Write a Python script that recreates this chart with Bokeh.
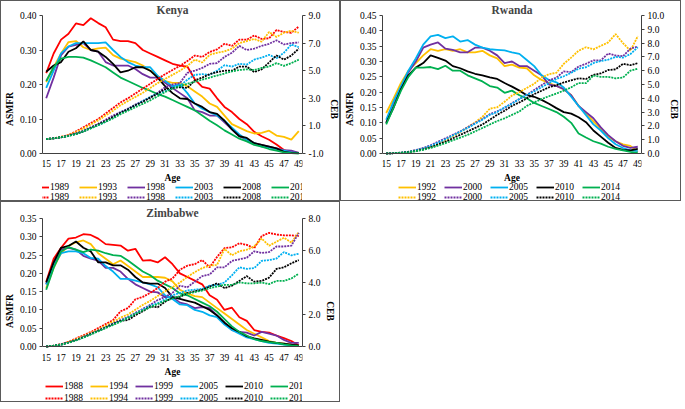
from bokeh.plotting import figure
from bokeh.models import (Range1d, LinearAxis, FixedTicker, NumeralTickFormatter,
                          Legend, LegendItem)
from bokeh.layouts import gridplot
from bokeh.embed import file_html
from bokeh.resources import INLINE

ages = [15, 16, 17, 18, 19, 20, 21, 22, 23, 24, 25, 26, 27, 28, 29, 30, 31, 32,
        33, 34, 35, 36, 37, 38, 39, 40, 41, 42, 43, 44, 45, 46, 47, 48, 49]
age_ticks = [15, 17, 19, 21, 23, 25, 27, 29, 31, 33, 35, 37, 39, 41, 43, 45, 47, 49]

# ---------------- Kenya ----------------
kenya_years = ["1989", "1993", "1998", "2003", "2008", "2014"]
kenya_asmfr_1989 = [.233, .29, .33, .347, .377, .372, .392, .378, .366, .33, .326, .326, .32, .30, .29, .28, .27, .26, .255, .252, .215, .193, .188, .16, .135, .12, .10, .085, .063, .05, .04, .026, .01, .004, .002]
kenya_asmfr_1993 = [.207, .25, .29, .323, .326, .308, .30, .305, .307, .285, .275, .27, .265, .255, .24, .225, .21, .205, .205, .195, .18, .165, .145, .135, .11, .085, .075, .065, .058, .06, .066, .052, .048, .04, .065]
kenya_asmfr_1998 = [.16, .22, .285, .31, .315, .32, .30, .295, .265, .255, .255, .255, .245, .23, .22, .22, .205, .19, .175, .16, .125, .12, .11, .11, .09, .07, .05, .04, .03, .025, .02, .015, .01, .008, .002]
kenya_asmfr_2003 = [.19, .24, .29, .31, .32, .32, .32, .32, .322, .30, .28, .265, .255, .25, .25, .225, .21, .195, .20, .175, .145, .13, .12, .11, .095, .075, .055, .04, .03, .02, .018, .012, .008, .003, .001]
kenya_asmfr_2008 = [.237, .255, .265, .295, .305, .325, .30, .295, .28, .26, .235, .24, .25, .25, .24, .22, .195, .175, .16, .158, .145, .135, .12, .115, .095, .07, .05, .045, .03, .025, .02, .015, .005, .002, .001]
kenya_asmfr_2014 = [.21, .25, .275, .28, .28, .278, .27, .26, .25, .235, .22, .21, .20, .19, .182, .172, .165, .155, .145, .135, .125, .11, .095, .082, .067, .055, .043, .035, .025, .02, .013, .008, .003, .001, .0]
kenya_ceb_1989 = [.05, .1, .2, .35, .6, .9, 1.2, 1.5, 1.9, 2.3, 2.7, 3.0, 3.35, 3.7, 4.05, 4.4, 4.75, 5.05, 5.35, 5.7, 6.1, 6.0, 6.35, 6.55, 6.95, 6.8, 7.25, 7.25, 7.55, 7.3, 7.35, 7.95, 7.8, 7.75, 8.2]
kenya_ceb_1993 = [.05, .1, .2, .33, .55, .8, 1.1, 1.4, 1.75, 2.1, 2.5, 2.8, 3.1, 3.4, 3.75, 4.1, 4.4, 4.7, 5.0, 5.35, 5.8, 5.6, 6.15, 6.3, 6.4, 6.6, 7.0, 7.15, 7.3, 7.1, 7.8, 7.45, 7.75, 7.9, 7.75]
kenya_ceb_1998 = [.05, .1, .18, .3, .45, .65, .9, 1.15, 1.45, 1.75, 2.0, 2.25, 2.55, 2.8, 3.05, 3.4, 3.8, 4.0, 4.1, 4.85, 5.0, 5.2, 5.5, 5.55, 6.0, 6.3, 6.8, 6.5, 6.6, 6.8, 6.95, 7.2, 6.9, 7.0, 7.05]
kenya_ceb_2003 = [.05, .1, .17, .28, .42, .6, .85, 1.05, 1.3, 1.6, 1.95, 2.2, 2.5, 2.8, 3.1, 3.35, 3.5, 3.8, 3.9, 4.35, 4.7, 4.75, 4.7, 5.0, 5.4, 5.3, 5.5, 5.45, 5.8, 5.95, 6.15, 5.9, 6.3, 6.9, 6.7]
kenya_ceb_2008 = [.05, .1, .17, .28, .42, .6, .85, 1.1, 1.35, 1.65, 1.95, 2.2, 2.5, 2.75, 3.05, 3.35, 3.65, 3.75, 3.8, 3.75, 4.3, 4.5, 4.75, 4.9, 5.0, 5.0, 5.3, 5.3, 4.9, 5.1, 5.6, 6.1, 5.8, 6.1, 6.6]
kenya_ceb_2014 = [.05, .1, .17, .27, .4, .6, .82, 1.05, 1.3, 1.55, 1.85, 2.1, 2.35, 2.6, 2.85, 3.15, 3.45, 3.7, 3.9, 4.05, 4.2, 4.35, 4.5, 4.65, 4.8, 4.95, 5.05, 5.1, 5.05, 5.2, 5.3, 5.55, 5.35, 5.55, 5.8]

# ---------------- Rwanda ----------------
rwanda_years = ["1992", "2000", "2005", "2010", "2014"]
rwanda_asmfr_1992 = [.132, .18, .23, .27, .295, .32, .34, .335, .34, .335, .34, .33, .33, .335, .32, .31, .285, .29, .28, .278, .255, .24, .23, .22, .21, .19, .155, .13, .105, .08, .055, .04, .03, .025, .005]
rwanda_asmfr_2000 = [.10, .16, .215, .265, .30, .345, .355, .362, .342, .338, .33, .33, .345, .345, .335, .32, .295, .30, .285, .285, .27, .255, .225, .22, .21, .19, .155, .135, .115, .085, .06, .04, .025, .018, .022]
rwanda_asmfr_2005 = [.11, .17, .22, .27, .31, .355, .382, .387, .376, .382, .365, .37, .355, .345, .34, .338, .336, .33, .325, .305, .285, .255, .24, .232, .215, .185, .155, .125, .095, .075, .05, .03, .018, .01, .008]
rwanda_asmfr_2010 = [.10, .15, .21, .255, .28, .295, .32, .312, .303, .285, .278, .268, .26, .255, .248, .243, .23, .218, .205, .19, .185, .175, .162, .148, .135, .13, .118, .102, .075, .055, .035, .018, .012, .01, .015]
rwanda_asmfr_2014 = [.095, .15, .205, .25, .28, .28, .282, .275, .286, .27, .27, .255, .245, .235, .22, .215, .198, .205, .19, .18, .165, .155, .145, .135, .12, .10, .065, .052, .04, .032, .022, .015, .01, .005, .001]
rwanda_ceb_1992 = [0.0, .02, .06, .12, .22, .35, .5, .7, .95, 1.25, 1.55, 1.9, 2.25, 2.65, 3.25, 3.35, 3.75, 4.2, 4.45, 4.75, 5.05, 5.5, 5.75, 5.85, 6.5, 6.95, 7.45, 7.7, 7.55, 7.8, 8.05, 8.65, 8.0, 7.45, 8.5]
rwanda_ceb_2000 = [0.0, .02, .06, .13, .25, .4, .6, .85, 1.1, 1.35, 1.6, 1.9, 2.2, 2.5, 2.85, 3.05, 3.3, 3.65, 3.95, 4.25, 4.6, 4.95, 5.3, 5.5, 5.95, 5.9, 6.3, 6.5, 6.75, 6.75, 7.25, 7.1, 7.05, 7.6, 7.75]
rwanda_ceb_2005 = [0.0, .02, .06, .12, .22, .37, .55, .78, 1.02, 1.3, 1.58, 1.85, 2.15, 2.45, 2.8, 3.0, 3.35, 3.6, 3.95, 4.25, 4.5, 4.8, 5.1, 5.4, 5.6, 5.85, 6.15, 6.25, 6.55, 6.7, 6.8, 7.0, 6.95, 7.2, 7.7]
rwanda_ceb_2010 = [0.0, .02, .05, .1, .18, .3, .45, .65, .85, 1.1, 1.35, 1.6, 1.85, 2.1, 2.45, 2.8, 3.1, 3.45, 3.7, 4.0, 4.3, 4.55, 4.8, 4.95, 5.15, 5.3, 5.45, 5.4, 5.7, 5.8, 6.05, 6.1, 6.5, 6.4, 6.55]
rwanda_ceb_2014 = [0.0, .02, .05, .09, .17, .27, .4, .57, .75, .95, 1.15, 1.35, 1.6, 1.85, 2.1, 2.35, 2.55, 2.8, 3.05, 3.45, 3.7, 3.95, 4.15, 4.35, 4.55, 4.8, 5.1, 5.1, 5.65, 5.55, 5.55, 5.45, 5.5, 6.0, 6.15]

# ---------------- Zimbabwe ----------------
zimbabwe_years = ["1988", "1994", "1999", "2005", "2010", "2015"]
zimbabwe_asmfr_1988 = [.177, .24, .27, .295, .298, .307, .305, .295, .28, .278, .276, .262, .267, .235, .236, .23, .244, .225, .20, .19, .18, .17, .14, .128, .10, .106, .08, .07, .045, .04, .038, .03, .023, .015, .003]
zimbabwe_asmfr_1994 = [.16, .215, .255, .275, .285, .29, .28, .255, .24, .225, .235, .22, .205, .19, .19, .19, .188, .178, .155, .145, .138, .135, .12, .105, .09, .075, .06, .045, .035, .025, .015, .01, .008, .005, .002]
zimbabwe_asmfr_1999 = [.17, .225, .265, .27, .265, .248, .24, .235, .215, .215, .205, .185, .17, .16, .15, .148, .135, .135, .12, .115, .105, .108, .105, .085, .065, .045, .04, .038, .03, .04, .035, .03, .018, .01, .01]
zimbabwe_asmfr_2005 = [.17, .22, .255, .26, .26, .255, .242, .24, .22, .205, .185, .185, .18, .175, .17, .162, .14, .13, .115, .113, .10, .095, .085, .08, .06, .045, .035, .025, .02, .015, .01, .008, .005, .003, .001]
zimbabwe_asmfr_2010 = [.175, .23, .27, .275, .287, .27, .26, .23, .23, .222, .222, .21, .19, .175, .172, .172, .16, .135, .13, .125, .12, .11, .10, .085, .065, .05, .04, .028, .022, .018, .013, .01, .008, .005, .003]
zimbabwe_asmfr_2015 = [.155, .215, .26, .272, .265, .258, .265, .262, .255, .25, .248, .235, .22, .205, .195, .18, .17, .16, .145, .14, .13, .12, .11, .095, .075, .055, .04, .03, .02, .015, .012, .01, .006, .003, .001]
zimbabwe_ceb_1988 = [0.0, .05, .15, .3, .5, .7, .9, 1.15, 1.4, 1.65, 2.2, 2.4, 2.95, 3.1, 3.35, 3.65, 4.05, 4.25, 4.8, 5.05, 5.15, 5.4, 4.95, 5.6, 6.15, 6.2, 6.45, 6.35, 6.15, 6.9, 7.1, 7.0, 6.95, 6.95, 6.9]
zimbabwe_ceb_1994 = [0.0, .05, .13, .28, .45, .65, .85, 1.05, 1.3, 1.55, 1.8, 2.0, 2.3, 2.6, 2.85, 3.15, 3.45, 3.7, 4.0, 4.35, 4.65, 4.9, 5.05, 5.1, 6.1, 5.7, 5.95, 6.05, 6.25, 6.75, 6.3, 6.55, 6.8, 6.5, 7.15]
zimbabwe_ceb_1999 = [0.0, .05, .13, .25, .4, .6, .8, 1.0, 1.2, 1.45, 1.65, 1.85, 2.1, 2.35, 2.6, 2.9, 3.1, 3.35, 3.8, 3.7, 4.05, 4.4, 4.5, 4.95, 4.95, 5.35, 5.45, 5.55, 5.95, 5.85, 5.9, 6.25, 6.25, 6.3, 7.1]
zimbabwe_ceb_2005 = [0.0, .05, .12, .25, .4, .58, .78, .98, 1.2, 1.4, 1.6, 1.8, 2.05, 2.3, 2.55, 2.7, 2.95, 3.2, 3.35, 3.5, 3.55, 3.6, 3.8, 3.85, 4.0, 4.45, 4.95, 4.85, 4.9, 5.35, 5.4, 5.5, 5.9, 5.7, 5.8]
zimbabwe_ceb_2010 = [0.0, .05, .12, .25, .4, .58, .78, .98, 1.18, 1.4, 1.6, 1.65, 1.95, 2.2, 2.5, 2.45, 2.8, 3.05, 3.1, 3.35, 3.45, 3.55, 3.75, 3.95, 3.65, 3.8, 4.1, 4.4, 4.05, 4.1, 4.3, 4.85, 4.95, 5.2, 5.4]
zimbabwe_ceb_2015 = [0.0, .05, .12, .24, .38, .55, .75, .95, 1.15, 1.35, 1.55, 1.8, 2.05, 2.25, 2.45, 2.65, 2.85, 3.0, 3.15, 3.3, 3.4, 3.5, 3.65, 3.75, 3.85, 3.85, 4.0, 3.95, 3.95, 4.0, 3.9, 4.1, 4.1, 4.25, 4.55]

six_colors = ["#FF0000", "#FFC000", "#7030A0", "#00B0F0", "#000000", "#00B050"]
rwanda_colors = ["#FFC000", "#7030A0", "#00B0F0", "#000000", "#00B050"]

FONT = "Liberation Serif"
AXIS_COLOR = "#404040"


def panel(title, years, colors, asmfr, ceb, y_max, y_ticks, ceb_lo, ceb_hi, ceb_ticks,
          width, height, top, left, right, plot_px, leg_x, leg_y1, leg_y2, leg_spacing,
          tick_standoff):
    # plot_px: pixel height of the data area (0 .. y_max); the rest of the frame
    # below it holds the age axis and the legend rows.
    frame_px = height - top
    extra = (frame_px - plot_px) / plot_px
    y_lo = -y_max * extra
    c_lo = ceb_lo - (ceb_hi - ceb_lo) * extra

    p = figure(width=width, height=height, x_range=Range1d(14.5, 49.5),
               y_range=Range1d(y_lo, y_max), output_backend="svg", toolbar_location=None,
               min_border_left=left, min_border_right=right, min_border_top=top,
               min_border_bottom=0, title=title,
               styles={"border": "1px solid #5a5a5a"})
    p.extra_y_ranges = {"ceb": Range1d(c_lo, ceb_hi)}
    p.outline_line_color = None
    p.grid.visible = False

    p.title.align = "center"
    p.title.text_font = FONT
    p.title.text_font_size = "11.5px"
    p.title.text_font_style = "bold"
    p.title.standoff = 0
    p.title.offset = 0

    xa = p.xaxis[0]
    xa.fixed_location = 0
    xa.ticker = FixedTicker(ticks=age_ticks)
    xa.axis_label = "Age"
    xa.major_tick_out = 0
    xa.major_tick_in = 0
    xa.minor_tick_out = 0
    xa.minor_tick_in = 0
    xa.major_label_standoff = tick_standoff
    xa.axis_label_standoff = 3

    ya = p.yaxis[0]
    ya.bounds = (0, y_max)
    ya.ticker = FixedTicker(ticks=y_ticks)
    ya.formatter = NumeralTickFormatter(format="0.00")
    ya.axis_label = "ASMFR"
    ya.major_tick_out = 3
    ya.major_tick_in = 0
    ya.minor_tick_out = 0
    ya.minor_tick_in = 0
    ya.major_label_standoff = 3
    ya.axis_label_standoff = 2

    ra = LinearAxis(y_range_name="ceb", ticker=FixedTicker(ticks=ceb_ticks),
                    formatter=NumeralTickFormatter(format="0.0"), axis_label="CEB",
                    bounds=(ceb_lo, ceb_hi))
    ra.major_tick_out = 3
    ra.major_tick_in = 0
    ra.minor_tick_out = 0
    ra.minor_tick_in = 0
    ra.major_label_standoff = 3
    ra.axis_label_standoff = 2
    p.add_layout(ra, "right")

    for ax in (xa, ya, ra):
        ax.axis_line_color = AXIS_COLOR
        ax.major_tick_line_color = AXIS_COLOR
        ax.major_label_text_font = FONT
        ax.major_label_text_font_size = "9.5px"
        ax.major_label_text_color = "#000000"
        ax.axis_label_text_font = FONT
        ax.axis_label_text_font_size = "9.5px"
        ax.axis_label_text_font_style = "bold"
        ax.axis_label_text_color = "#000000"

    solid_items, dotted_items = [], []
    for yr, c, s in zip(years, colors, asmfr):
        r = p.line(ages, s, line_color=c, line_width=1.8)
        solid_items.append(LegendItem(label=yr, renderers=[r]))
    for yr, c, s in zip(years, colors, ceb):
        r = p.line(ages, s, line_color=c, line_width=1.8, line_dash="2 1", y_range_name="ceb")
        dotted_items.append(LegendItem(label=yr, renderers=[r]))

    for items, ly in ((solid_items, leg_y1), (dotted_items, leg_y2)):
        leg = Legend(items=items, orientation="horizontal", location=(leg_x, ly))
        leg.label_text_font = FONT
        leg.label_text_font_size = "9.5px"
        leg.label_text_color = "#000000"
        leg.glyph_width = 18
        leg.glyph_height = 10
        leg.label_height = 10
        leg.label_standoff = 1
        leg.spacing = leg_spacing
        leg.padding = 0
        leg.margin = 0
        leg.border_line_color = None
        leg.background_fill_alpha = 0
        p.add_layout(leg)
    return p


kenya = panel("Kenya", kenya_years, six_colors,
              [kenya_asmfr_1989, kenya_asmfr_1993, kenya_asmfr_1998,
               kenya_asmfr_2003, kenya_asmfr_2008, kenya_asmfr_2014],
              [kenya_ceb_1989, kenya_ceb_1993, kenya_ceb_1998,
               kenya_ceb_2003, kenya_ceb_2008, kenya_ceb_2014],
              0.40, [0.0, 0.1, 0.2, 0.3, 0.4], -1, 9, [-1, 1, 3, 5, 7, 9],
              340, 201, 14, 35, 35, 138, -11, 10, 0, 9, 6)

rwanda = panel("Rwanda", rwanda_years, rwanda_colors,
               [rwanda_asmfr_1992, rwanda_asmfr_2000, rwanda_asmfr_2005,
                rwanda_asmfr_2010, rwanda_asmfr_2014],
               [rwanda_ceb_1992, rwanda_ceb_2000, rwanda_ceb_2005,
                rwanda_ceb_2010, rwanda_ceb_2014],
               0.45, [0.0, 0.05, 0.1, 0.15, 0.2, 0.25, 0.3, 0.35, 0.4, 0.45],
               0, 10, [0, 1, 2, 3, 4, 5, 6, 7, 8, 9, 10],
               341, 201, 14, 36, 36, 138, 16, 10, 0, 7, 6)

zimbabwe = panel("Zimbabwe", zimbabwe_years, six_colors,
                 [zimbabwe_asmfr_1988, zimbabwe_asmfr_1994, zimbabwe_asmfr_1999,
                  zimbabwe_asmfr_2005, zimbabwe_asmfr_2010, zimbabwe_asmfr_2015],
                 [zimbabwe_ceb_1988, zimbabwe_ceb_1994, zimbabwe_ceb_1999,
                  zimbabwe_ceb_2005, zimbabwe_ceb_2010, zimbabwe_ceb_2015],
                 0.35, [0.0, 0.05, 0.1, 0.15, 0.2, 0.25, 0.3, 0.35],
                 0, 8, [0, 2, 4, 6, 8],
                 340, 201, 16, 35, 35, 128, 3, 12, 0, 6, 7)

grid = gridplot([[kenya, rwanda], [zimbabwe, None]], toolbar_location=None)
open("out.html", "w").write(file_html(grid, INLINE))
